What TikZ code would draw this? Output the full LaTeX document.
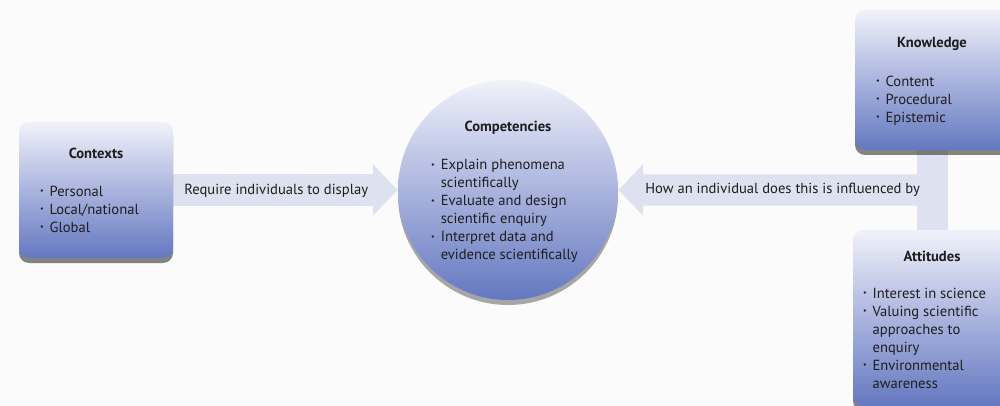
\documentclass[tikz,border=0pt]{standalone}
\usepackage{fontspec}
\setmainfont{PT Sans}
\usetikzlibrary{arrows.meta,shadows,backgrounds,calc}

\definecolor{bgwhite}{HTML}{FBFBFB}
\definecolor{boxtop}{HTML}{F0F2FA}
\definecolor{boxmid}{HTML}{AAB4DE}
\definecolor{boxbot}{HTML}{6478C0}
\definecolor{flowblue}{HTML}{DDE1F0}
\definecolor{inkgray}{HTML}{1E1E1E}

\newcommand{\dotmark}{\raisebox{0.18em}{\scalebox{0.55}{\textbullet}}}

\begin{document}
\begin{tikzpicture}[x=1pt,y=-1pt,
    box/.style={rectangle, rounded corners=10pt, top color=boxtop, bottom color=boxbot, middle color=boxmid,
        drop shadow={shadow xshift=0pt, shadow yshift=-5pt, opacity=0.6, fill=black!80}},
    ball/.style={circle, minimum size=220pt, inner sep=0pt, top color=boxtop, bottom color=boxbot, middle color=boxmid,
        drop shadow={shadow xshift=0pt, shadow yshift=-5pt, opacity=0.45, fill=black!75}},
    boxtitle/.style={inner sep=0pt, text=inkgray, font=\fontsize{14.6}{18}\selectfont\bfseries},
    boxlist/.style={inner sep=0pt, anchor=north west, text=inkgray, font=\fontsize{14.6}{18}\selectfont},
    flowlabel/.style={inner sep=0pt, anchor=west, text=inkgray, font=\fontsize{14.6}{18}\selectfont},
    flow/.style={draw=flowblue, line width=31pt, -{Triangle[length=25pt, width=50pt]}},
    flowbar/.style={draw=flowblue, line width=31pt}]

    \useasboundingbox (0,0) rectangle (1000,406);
    \clip (0,0) rectangle (1000,406);

    % boxes
    \node[box, minimum width=154pt, minimum height=136pt] (ctx) at (96,190) {};
    \node[boxtitle] (ctx-title) at ($(ctx.north)+(0,32)$) {Contexts};
    \node[boxlist] (ctx-list) at ($(ctx.north west)+(21,62)$) {\begin{tabular}{@{}l@{\hspace{6pt}}l@{}}
        \dotmark & Personal\\
        \dotmark & Local/national\\
        \dotmark & Global
    \end{tabular}};

    \node[ball] (comp) at (508,190) {};
    \node[boxtitle] (comp-title) at ($(comp.center)+(0,-62)$) {Competencies};
    \node[boxlist] (comp-list) at ($(comp.center)+(-77,-33)$) {\begin{tabular}{@{}l@{\hspace{6pt}}l@{}}
        \dotmark & Explain phenomena\\
                 & scientifically\\
        \dotmark & Evaluate and design\\
                 & scientific enquiry\\
        \dotmark & Interpret data and\\
                 & evidence scientifically
    \end{tabular}};

    \node[box, minimum width=154pt, minimum height=140pt] (know) at (932,80) {};
    \node[boxtitle] (know-title) at ($(know.north)+(0,34)$) {Knowledge};
    \node[boxlist] (know-list) at ($(know.north west)+(21,64)$) {\begin{tabular}{@{}l@{\hspace{6pt}}l@{}}
        \dotmark & Content\\
        \dotmark & Procedural\\
        \dotmark & Epistemic
    \end{tabular}};

    \node[box, minimum width=158pt, minimum height=176pt] (att) at (932,318) {};
    \node[boxtitle] (att-title) at ($(att.north)+(0,27)$) {Attitudes};
    \node[boxlist] (att-list) at ($(att.north west)+(10,56)$) {\begin{tabular}{@{}l@{\hspace{6pt}}l@{}}
        \dotmark & Interest in science\\
        \dotmark & Valuing scientific\\
                 & approaches to\\
                 & enquiry\\
        \dotmark & Environmental\\
                 & awareness
    \end{tabular}};

    \coordinate (junction) at ($(know.south)!0.5!(att.north)$);

    % arrows behind the boxes
    \begin{pgfonlayer}{background}
        \fill[bgwhite] (0,0) rectangle (1000,406);
        \draw[flow] (ctx.east) -- (comp.west);
        \draw[flowbar] (know.south) -- (att.north);
        \draw[flow] ([xshift=15.5pt]junction) -- (comp.east);
    \end{pgfonlayer}

    \node[flowlabel] (req) at ([xshift=11pt, yshift=-1pt]ctx.east) {Require individuals to display};
    \node[flowlabel] (how) at ([xshift=27pt]comp.east) {How an individual does this is influenced by};
\end{tikzpicture}
\end{document}
